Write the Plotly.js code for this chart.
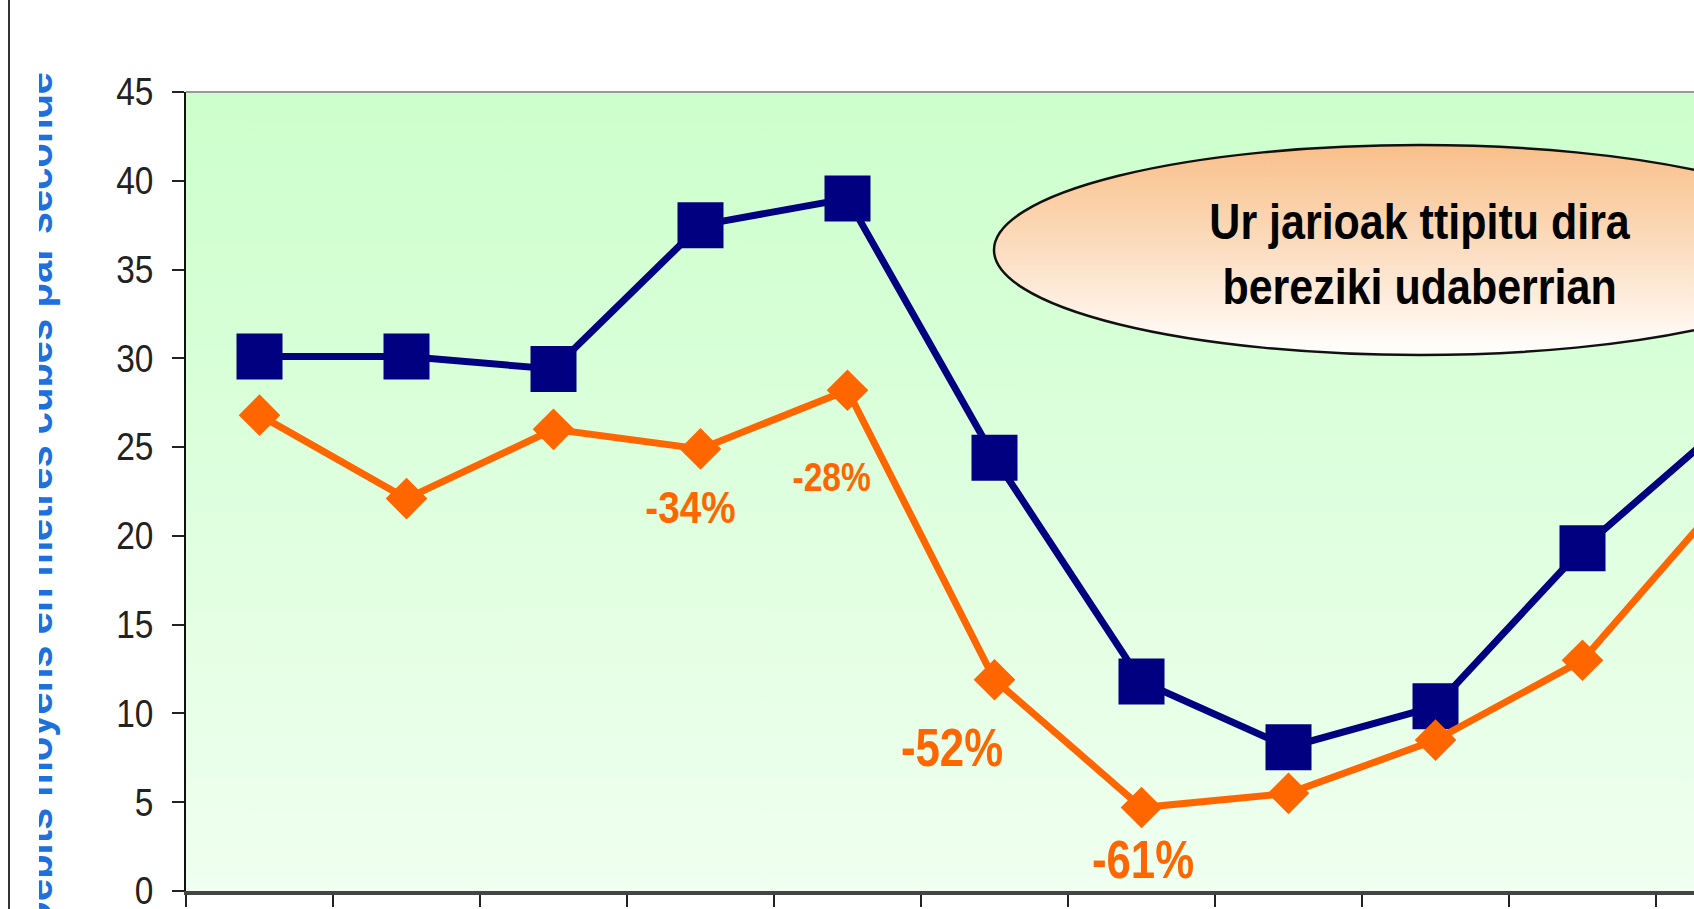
<!DOCTYPE html>
<html>
<head>
<meta charset="utf-8">
<script src="https://cdn.plot.ly/plotly-3.0.1.min.js"></script>
<style>html,body{margin:0;padding:0;background:#fff;}#chart{width:1694px;height:909px;}</style>
</head>
<body>
<div id="chart"></div>
<script>
// ---- data ----
var months = ["janv.", "févr.", "mars", "avr.", "mai", "juin", "juil.", "août", "sept.", "oct.", "nov.", "déc."];
var debitsAvant = [30.1, 30.1, 29.4, 37.5, 39.0, 24.4, 11.8, 8.1, 10.4, 19.3, 26.5];
var debitsApres = [26.8, 22.1, 26.0, 24.9, 28.2, 11.9, 4.7, 5.5, 8.5, 13.0, 22.5];
var yTickVals = [0, 5, 10, 15, 20, 25, 30, 35, 40, 45];
var pctLabels = ["-34%", "-28%", "-52%", "-61%"];
var calloutText = "Ur jarioak ttipitu dira<br>bereziki udaberrian";
var yTitle = "Débits moyens en mètres cubes par seconde";

var W = 1694, H = 909;
var L = 186, T = 92, B = 18;
var plotW = W - L, plotH = H - T - B;
var catW = 147;
function px2paperX(px) { return (px - L) / plotW; }
function px2paperY(py) { return (H - B - py) / plotH; }

var sans = '"Liberation Sans", Arial, sans-serif';

function svgUri(s) { return 'data:image/svg+xml;charset=utf-8,' + encodeURIComponent(s); }
var bgSvg = '<svg xmlns="http://www.w3.org/2000/svg" width="100" height="100" viewBox="0 0 100 100" preserveAspectRatio="none">' +
  '<defs><linearGradient id="g" x1="0" y1="0" x2="0" y2="1">' +
  '<stop offset="0" stop-color="#CCFFCC"/><stop offset="1" stop-color="#F0FFF0"/></linearGradient></defs>' +
  '<rect x="0" y="0" width="100" height="100" fill="url(#g)"/></svg>';
var elW = 855, elH = 214;
var ellSvg = '<svg xmlns="http://www.w3.org/2000/svg" width="' + elW + '" height="' + elH + '" viewBox="0 0 ' + elW + ' ' + elH + '" preserveAspectRatio="none">' +
  '<defs><linearGradient id="e" x1="0" y1="0" x2="0" y2="1">' +
  '<stop offset="0" stop-color="#F8C08A"/><stop offset="0.5" stop-color="#FCDDC0"/><stop offset="1" stop-color="#FFFFFF"/></linearGradient></defs>' +
  '<ellipse cx="' + (elW / 2) + '" cy="' + (elH / 2) + '" rx="' + (elW / 2 - 2) + '" ry="' + (elH / 2 - 2) + '" fill="url(#e)" stroke="#111" stroke-width="2.5"/></svg>';

var traceAvant = {
  type: 'scatter', mode: 'lines+markers',
  x: months.slice(0, debitsAvant.length), y: debitsAvant,
  line: { color: '#000080', width: 7 },
  marker: { symbol: 'square', size: 46, color: '#000080' },
  cliponaxis: true, hoverinfo: 'x+y'
};
var traceApres = {
  type: 'scatter', mode: 'lines+markers',
  x: months.slice(0, debitsApres.length), y: debitsApres,
  line: { color: '#FF6600', width: 7 },
  marker: { symbol: 'diamond', size: 32, color: '#FF6600' },
  cliponaxis: true, hoverinfo: 'x+y'
};

var labelPos = [
  { x: 2.93, y: 21.6, size: 45, bold: true, sx: 0.86 },
  { x: 3.89, y: 23.3, size: 40, bold: true, sx: 0.84 },
  { x: 4.71, y: 8.1, size: 54, bold: true, sx: 0.81 },
  { x: 6.01, y: 1.8, size: 54, bold: true, sx: 0.81 }
];
var condense = {}; // annotation index -> horizontal scale
var annotations = pctLabels.map(function (t, i) {
  var p = labelPos[i];
  condense[i] = p.sx;
  return {
    xref: 'x', yref: 'y', x: p.x, y: p.y, text: p.bold ? '<b>' + t + '</b>' : t,
    showarrow: false, xanchor: 'center', yanchor: 'middle',
    font: { family: sans, size: p.size, color: '#FF6600' }
  };
});
condense[annotations.length] = 0.86;
annotations.push({
  xref: 'paper', yref: 'paper', x: px2paperX(1420), y: px2paperY(254),
  text: '<b>' + calloutText + '</b>', showarrow: false, xanchor: 'center', yanchor: 'middle',
  font: { family: sans, size: 50, color: '#000' }
});
annotations.push({
  xref: 'paper', yref: 'paper', x: px2paperX(62), y: px2paperY(70),
  text: '<b>' + yTitle + '</b>', textangle: -90, showarrow: false,
  xanchor: 'right', yanchor: 'top',
  font: { family: sans, size: 40, color: '#1E70DC' }
});
// white mask clipping the outer part of the axis title (as in the cropped original)
annotations.push({
  xref: 'paper', yref: 'paper', x: px2paperX(12), y: px2paperY(0),
  text: ' ', showarrow: false, xanchor: 'left', yanchor: 'top',
  width: 27, height: 909, bgcolor: '#FFFFFF', borderpad: 0, borderwidth: 0
});

var layout = {
  width: W, height: H,
  margin: { l: L, r: 0, t: T, b: B, pad: 0 },
  paper_bgcolor: '#FFFFFF',
  plot_bgcolor: 'rgba(0,0,0,0)',
  showlegend: false,
  xaxis: {
    type: 'category', categoryorder: 'array', categoryarray: months,
    range: [-0.5, -0.5 + plotW / catW],
    tickson: 'boundaries', ticks: 'outside', ticklen: 12, tickwidth: 2, tickcolor: '#222',
    showticklabels: false, showgrid: false, zeroline: false,
    showline: true, linecolor: '#444', linewidth: 4, fixedrange: true
  },
  yaxis: {
    range: [0, 45], tickmode: 'array', tickvals: yTickVals, ticktext: yTickVals.map(String),
    ticks: 'outside', ticklen: 12, tickwidth: 2, tickcolor: '#222',
    ticklabelstandoff: 11, ticklabeloverflow: 'allow',
    tickfont: { family: sans, size: 38, color: '#222' },
    showgrid: false, zeroline: false, showline: true, linecolor: '#111', linewidth: 2, fixedrange: true
  },
  images: [
    { source: svgUri(bgSvg), xref: 'paper', yref: 'paper', x: 0, y: 1, sizex: 1, sizey: 1,
      xanchor: 'left', yanchor: 'top', sizing: 'stretch', layer: 'below' },
    { source: svgUri(ellSvg), xref: 'paper', yref: 'paper', x: px2paperX(992), y: px2paperY(143),
      sizex: elW / plotW, sizey: elH / plotH, xanchor: 'left', yanchor: 'top', sizing: 'stretch', layer: 'above' }
  ],
  shapes: [
    { type: 'line', xref: 'paper', yref: 'paper', x0: 0, x1: 1.05, y0: 1, y1: 1, line: { color: '#999', width: 2 } },
    { type: 'line', xref: 'paper', yref: 'paper', x0: px2paperX(9), x1: px2paperX(9), y0: -0.1, y1: 1.2, line: { color: '#333', width: 2 } }
  ],
  annotations: annotations
};

function squeeze(el, sx, originMode) {
  var bb = el.getBBox();
  var ox = originMode === 'right' ? bb.x + bb.width : bb.x + bb.width / 2;
  var prev = el.getAttribute('transform') || '';
  el.setAttribute('transform', prev + ' translate(' + ox + ',0) scale(' + sx + ',1) translate(' + (-ox) + ',0)');
}

Plotly.newPlot('chart', [traceAvant, traceApres], layout, { displayModeBar: false, staticPlot: true }).then(function (gd) {
  var anns = gd.querySelectorAll('g.annotation');
  anns.forEach(function (g) {
    var idx = +g.getAttribute('data-index');
    if (condense[idx]) {
      var t = g.querySelector('text.annotation-text');
      if (t) squeeze(t, condense[idx], 'center');
    }
  });
  gd.querySelectorAll('g.ytick text').forEach(function (t) { squeeze(t, 0.88, 'right'); });
});
</script>
</body>
</html>
